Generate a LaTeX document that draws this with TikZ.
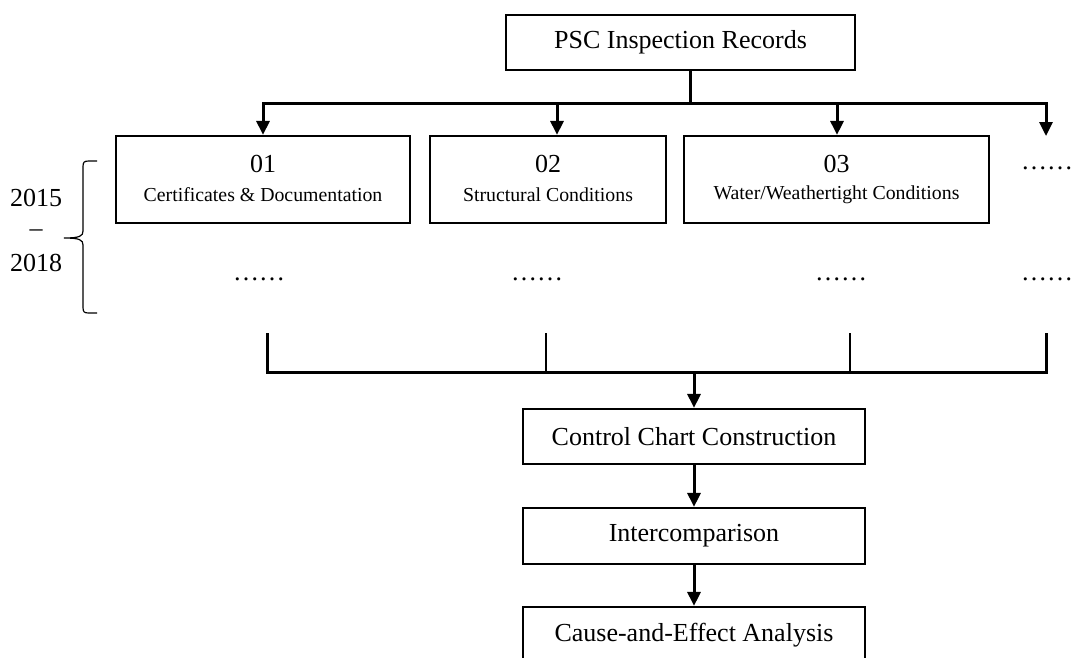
\documentclass[tikz,border=0pt]{standalone}
\usepackage{fontspec}
\setmainfont{Liberation Serif}
\usetikzlibrary{arrows.meta}
\begin{document}
\begin{tikzpicture}[x=1pt,y=-1pt,
  box/.style={draw,line width=2.2pt,inner sep=0pt,align=center},
  big/.style={font=\fontsize{26}{30}\selectfont},
  conn/.style={line width=3pt},
  thin/.style={line width=2.2pt},
  arr/.style={line width=3pt,-{Triangle[length=14pt,width=13pt]}},
  lbl/.style={inner sep=0pt,font=\fontsize{26}{30}\selectfont}]
\useasboundingbox (0,0) rectangle (1078,657);
% top box
\node[box,big,minimum width=349pt,minimum height=55pt] (psc) at (680.5,42.5) {PSC Inspection Records};
% category boxes
\node[box,minimum width=294pt,minimum height=87pt] (b1) at (263,179.5) {};
\node[box,minimum width=236pt,minimum height=87pt] (b2) at (548,179.5) {};
\node[box,minimum width=305pt,minimum height=87pt] (b3) at (836.5,179.5) {};
\foreach \b/\n/\t in {b1/01/{Certificates \& Documentation},b2/02/{Structural Conditions},b3/03/{Water/Weathertight Conditions}}{
  \node[lbl] (\b n) at ([yshift=16pt]\b.center) {\n};
  \node[inner sep=0pt,font=\fontsize{19.8}{24}\selectfont] (\b t) at ([yshift=-15.5pt]\b.center) {\t};
}
\node[lbl] (d4) at (1047,168) {……};
\node[lbl] (d1) at (259,279) {……};
\node[lbl] (d2) at (537,279) {……};
\node[lbl] (d3) at (841,279) {……};
\node[lbl] (d5) at (1047,279) {……};
% top connectors
\coordinate (s0) at (690,70);
\coordinate (j0) at (690,103);
\draw[conn] (s0) -- (j0);
\draw[arr] (j0) -| ([xshift=0pt]b1.north);
\draw[arr] (j0) -| ([xshift=9pt]b2.north);
\draw[arr] (j0) -| ([xshift=0.5pt]b3.north);
\draw[arr] (j0) -| (1046,136);
% bottom boxes
\node[box,big,minimum width=342pt,minimum height=55pt] (cc) at (694,436.5) {Control Chart Construction};
\node[box,big,minimum width=342pt,minimum height=56pt] (ic) at (694,536) {Intercomparison};
\node[box,big,minimum width=342pt,minimum height=56pt] (ce) at (694,635) {Cause-and-Effect Analysis};
% collecting bar
\coordinate (v1) at (267,333);
\coordinate (v2) at (546,333);
\coordinate (v3) at (850,333);
\coordinate (v4) at (1046,333);
\coordinate (h1) at (267,372);
\coordinate (h4) at (1046,372);
\draw[thin] (v2) -- (v2 |- h1);
\draw[thin] (v3) -- (v3 |- h1);
\draw[conn] (v1) -- (h1) -- (h4) -- (v4);
\draw[arr] (h1 -| cc.north) -- (cc.north);
\draw[arr] (cc.south) -- (ic.north);
\draw[arr] (ic.south) -- (ce.north);
% brace and years
\draw[line width=1.2pt] (97,161) -- (89,161) .. controls (84,161) and (83,162) .. (83,167) -- (83,231)
  .. controls (83,236) and (80,238) .. (64,238) .. controls (80,238) and (83,240) .. (83,245)
  -- (83,307) .. controls (83,312) and (84,313) .. (89,313) -- (97,313);
\node[lbl] (y1) at (36,198) {2015};
\node[lbl] (y2) at (36,233) {–};
\node[lbl] (y3) at (36,263) {2018};
\end{tikzpicture}
\end{document}
